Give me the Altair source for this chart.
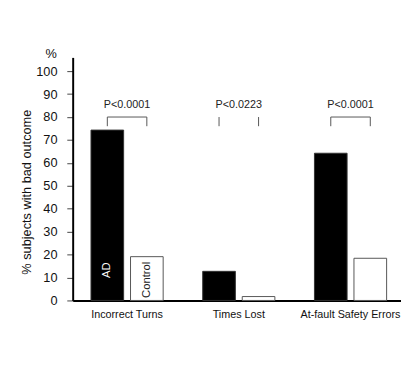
import altair as alt
import pandas as pd

categories = ["Incorrect Turns", "Times Lost", "At-fault Safety Errors"]
groups = ["AD", "Control"]
ad_values = [74.3, 12.7, 64.2]
control_values = [19.1, 1.7, 18.4]
p_labels = ["P<0.0001", "P<0.0223", "P<0.0001"]
y_ticks = [0, 10, 20, 30, 40, 50, 60, 70, 80, 90, 100]

bars = pd.DataFrame({
    "cat": categories * 2,
    "grp": ["AD"] * 3 + ["Control"] * 3,
    "val": ad_values + control_values,
})

# brackets: (category, group, y, segment, order)
bracket_rows = []
for cat in ["Incorrect Turns", "At-fault Safety Errors"]:
    bracket_rows += [
        (cat, "AD", 76, cat, 0),
        (cat, "AD", 80, cat, 1),
        (cat, "Control", 80, cat, 2),
        (cat, "Control", 76, cat, 3),
    ]
bracket_rows += [
    ("Times Lost", "AD", 76, "TL-a", 0),
    ("Times Lost", "AD", 80, "TL-a", 1),
    ("Times Lost", "Control", 76, "TL-b", 0),
    ("Times Lost", "Control", 80, "TL-b", 1),
]
brackets = pd.DataFrame(bracket_rows, columns=["cat", "grp", "val", "seg", "ord"])

ptext = pd.DataFrame({"cat": categories, "val": [85] * 3, "label": p_labels})

inbar = pd.DataFrame({
    "cat": ["Incorrect Turns", "Incorrect Turns"],
    "grp": ["AD", "Control"],
    "val": [13.2, 9.0],
    "label": ["AD", "Control"],
    "col": ["#ffffff", "#222222"],
})

pct = pd.DataFrame({"cat": ["Incorrect Turns"], "val": [107.5], "t": ["%"]})

FONT = "Liberation Sans"

xscale = alt.Scale(domain=categories, paddingInner=0.354, paddingOuter=0.1463, align=0.56)
xoff = alt.XOffset("grp:N", scale=alt.Scale(domain=groups, paddingInner=0.174, paddingOuter=0))
yscale = alt.Scale(domain=[0, 106], nice=False, zero=True)

xaxis = alt.Axis(title=None, labelAngle=0, ticks=False, labelPadding=8,
                 labelFontSize=11, labelFont=FONT, labelColor="#111",
                 labelOverlap=False, domainColor="#000", domainWidth=2)
yaxis = alt.Axis(title="% subjects with bad outcome", values=y_ticks, grid=False,
                 tickSize=6, tickColor="#444", tickWidth=1,
                 labelFontSize=13, labelFont=FONT, labelColor="#111", labelPadding=10,
                 labelOverlap=False,
                 domainColor="#000", domainWidth=2,
                 titleFontSize=13, titleFont=FONT, titleFontWeight="normal",
                 titleColor="#111", titleX=-47, titleY=137, titleAngle=-90,
                 titleAlign="center", titleBaseline="middle")

xenc = alt.X("cat:N", scale=xscale, sort=categories, axis=xaxis)
yenc = alt.Y("val:Q", scale=yscale, axis=yaxis)

bar_layer = alt.Chart(bars).mark_bar(strokeWidth=1).encode(
    x=xenc,
    xOffset=xoff,
    y=yenc,
    color=alt.Color("grp:N", scale=alt.Scale(domain=groups, range=["#000000", "#ffffff"]), legend=None),
    stroke=alt.Stroke("grp:N", scale=alt.Scale(domain=groups, range=["#333333", "#555555"]), legend=None),
)

bracket_layer = alt.Chart(brackets).mark_line(color="#555555", strokeWidth=1).encode(
    x=xenc,
    xOffset=xoff,
    y=yenc,
    detail="seg:N",
    order="ord:Q",
)

ptext_layer = alt.Chart(ptext).mark_text(fontSize=11, font=FONT, color="#222", baseline="middle").encode(
    x=xenc,
    y=yenc,
    text="label:N",
)

inbar_layer = alt.Chart(inbar).mark_text(fontSize=11.5, font=FONT, angle=270, baseline="middle", align="center").encode(
    x=xenc,
    xOffset=xoff,
    y=yenc,
    text="label:N",
    color=alt.Color("col:N", scale=None),
)

pct_layer = alt.Chart(pct).mark_text(
    fontSize=13, font=FONT, color="#111", baseline="middle", align="center"
).encode(
    x=alt.value(-22),
    y=yenc,
    text="t:N",
)

chart = alt.layer(bar_layer, bracket_layer, ptext_layer, inbar_layer, pct_layer).properties(
    width=335, height=248,
    autosize=alt.AutoSizeParams(type="none"),
    padding={"left": 66, "top": 47, "right": 0, "bottom": 40},
    background="#ffffff",
).configure_view(stroke=None)

chart.save("out.html", embed_options={"renderer": "svg", "actions": False})
